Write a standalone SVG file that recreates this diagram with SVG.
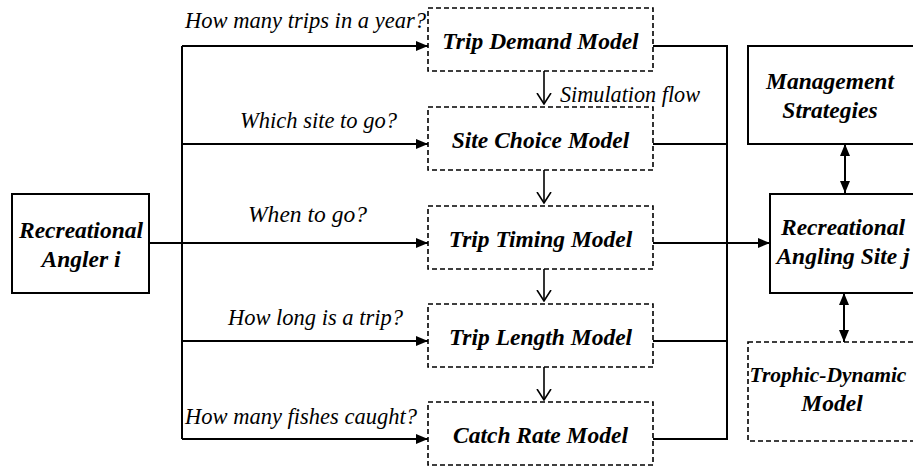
<svg xmlns="http://www.w3.org/2000/svg" width="913" height="466" viewBox="0 0 913 466">
<style>
.solid{fill:#fff;stroke:#000;stroke-width:2}
.dash{fill:#fff;stroke:#000;stroke-width:1.6;stroke-dasharray:5 3}
.t{font-family:'Liberation Serif','Times New Roman',serif;font-weight:bold;font-style:italic;font-size:23.5px;text-anchor:middle;fill:#000}
.q{font-family:'Liberation Serif','Times New Roman',serif;font-style:italic;font-size:23px;fill:#000}
.ln{fill:none;stroke:#000;stroke-width:2}
.sim{fill:none;stroke:#000;stroke-width:1.6}
</style>
<defs>
<marker id="ah" markerWidth="12" markerHeight="10" refX="12" refY="5" orient="auto" markerUnits="userSpaceOnUse">
<path d="M0,0 L12,5 L0,10 Z" fill="#000"/>
</marker>
<marker id="ahs" markerWidth="12" markerHeight="10" refX="12" refY="5" orient="auto-start-reverse" markerUnits="userSpaceOnUse">
<path d="M0,0 L12,5 L0,10 Z" fill="#000"/>
</marker>
<marker id="vh" markerWidth="12" markerHeight="16" refX="11" refY="8" orient="auto" markerUnits="userSpaceOnUse">
<path d="M0,1 L11,8 L0,15" fill="none" stroke="#000" stroke-width="1.6"/>
</marker>
</defs>

<g id="connectors">
<path class="ln" d="M182,46 V439"/>
<path class="ln" d="M182,46 H428" marker-end="url(#ah)"/>
<path class="ln" d="M182,144 H428" marker-end="url(#ah)"/>
<path class="ln" d="M149,243 H428" marker-end="url(#ah)"/>
<path class="ln" d="M182,341 H428" marker-end="url(#ah)"/>
<path class="ln" d="M182,439 H428" marker-end="url(#ah)"/>
<path class="ln" d="M653,46 H727 V439 H653"/>
<path class="ln" d="M653,144 H727"/>
<path class="ln" d="M653,341 H727"/>
<path class="ln" d="M653,243 H770" marker-end="url(#ah)"/>
<path class="ln" d="M845,144 V193" marker-start="url(#ahs)" marker-end="url(#ah)"/>
<path class="ln" d="M844,293 V342" marker-start="url(#ahs)" marker-end="url(#ah)"/>
<path class="sim" d="M544,71 V104" marker-end="url(#vh)"/>
<path class="sim" d="M544,170 V203" marker-end="url(#vh)"/>
<path class="sim" d="M544,269 V301" marker-end="url(#vh)"/>
<path class="sim" d="M544,367 V400" marker-end="url(#vh)"/>
<text class="q" x="185" y="28" textLength="241" lengthAdjust="spacingAndGlyphs">How many trips in a year?</text>
<text class="q" x="240" y="128" textLength="157" lengthAdjust="spacingAndGlyphs">Which site to go?</text>
<text class="q" x="248" y="222" textLength="119" lengthAdjust="spacingAndGlyphs">When to go?</text>
<text class="q" x="228" y="325" textLength="175" lengthAdjust="spacingAndGlyphs">How long is a trip?</text>
<text class="q" x="185" y="424" textLength="232" lengthAdjust="spacingAndGlyphs">How many fishes caught?</text>
<text class="q" x="560" y="102" textLength="140" lengthAdjust="spacingAndGlyphs">Simulation flow</text>
</g>

<g id="angler">
<rect class="solid" x="12" y="194" width="137" height="99"/>
<text class="t" x="81" y="238">Recreational</text>
<text class="t" x="81" y="267">Angler i</text>
</g>
<g id="trip-demand">
<rect class="dash" x="428" y="8" width="225" height="63"/>
<text class="t" x="540.5" y="49">Trip Demand Model</text>
</g>
<g id="site-choice">
<rect class="dash" x="428" y="107" width="225" height="63"/>
<text class="t" x="540.5" y="148">Site Choice Model</text>
</g>
<g id="trip-timing">
<rect class="dash" x="428" y="206" width="225" height="63"/>
<text class="t" x="540.5" y="247">Trip Timing Model</text>
</g>
<g id="trip-length">
<rect class="dash" x="428" y="304" width="225" height="63"/>
<text class="t" x="540.5" y="345">Trip Length Model</text>
</g>
<g id="catch-rate">
<rect class="dash" x="428" y="402" width="225" height="63"/>
<text class="t" x="540.5" y="443">Catch Rate Model</text>
</g>
<g id="management">
<rect class="solid" x="748" y="46" width="170" height="98"/>
<text class="t" x="830" y="89">Management</text>
<text class="t" x="830" y="118">Strategies</text>
</g>
<g id="site">
<rect class="solid" x="770" y="194" width="150" height="99"/>
<text class="t" x="843" y="235">Recreational</text>
<text class="t" x="843" y="264">Angling Site j</text>
</g>
<g id="trophic">
<rect class="dash" x="748" y="342" width="170" height="99"/>
<text class="t" x="828" y="382" style="font-size:21.5px">Trophic-Dynamic</text>
<text class="t" x="832" y="411">Model</text>
</g>
</svg>
